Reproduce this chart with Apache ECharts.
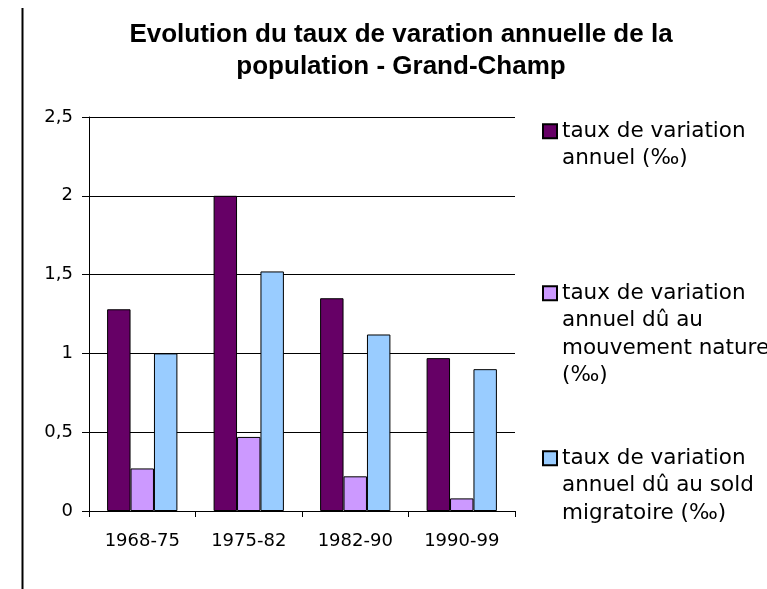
<!DOCTYPE html>
<html>
<head>
<meta charset="utf-8">
<script src="https://cdn.jsdelivr.net/npm/echarts@6/dist/echarts.min.js"></script>
<style>
  html, body { margin: 0; padding: 0; background: #fff; }
  #chart { width: 767px; height: 589px; }
</style>
</head>
<body>
<div id="chart"></div>
<script>
// donnees
const periods = ['1968-75', '1975-82', '1982-90', '1990-99'];
const tauxAnnuel = [1.28, 2.0, 1.35, 0.97];
const tauxNaturel = [0.27, 0.47, 0.22, 0.08];
const tauxMigratoire = [1.0, 1.52, 1.12, 0.9];
const yTicks = [0, 0.5, 1, 1.5, 2, 2.5];

const names = [
  'taux de variation\nannuel (‰)',
  'taux de variation\nannuel dû au\nmouvement nature\n(‰)',
  'taux de variation\nannuel dû au sold\nmigratoire (‰)'
];
const colors = ['#660066', '#cc99ff', '#99ccff'];
const values = [tauxAnnuel, tauxNaturel, tauxMigratoire];

const font = 'DejaVu Sans, sans-serif';
const titleFont = 'Liberation Sans, Arial, sans-serif';
const lh = 27.5;
const sq = 14;
// centre de la premiere ligne de chaque bloc de legende
const legendCenters = [131, 293, 458];

const chart = echarts.init(document.getElementById('chart'));

chart.setOption({
  animation: false,
  backgroundColor: '#fff',
  title: {
    text: 'Evolution du taux de varation annuelle de la\npopulation - Grand-Champ',
    left: 396,
    top: 14,
    textAlign: 'center',
    textStyle: {
      fontFamily: titleFont,
      fontSize: 26,
      fontWeight: 'bold',
      color: '#000',
      lineHeight: 32,
      align: 'center'
    }
  },
  // une legende par serie ; le carre est place en haut du bloc de texte
  legend: names.map((n, i) => {
    const lines = n.split('\n').length;
    const h = lines * lh - sq;
    return {
      data: [n],
      orient: 'vertical',
      left: 542,
      top: legendCenters[i] - lh / 2,
      padding: 0,
      itemWidth: sq,
      itemHeight: h,
      icon: 'path://M0,0L' + sq + ',0L' + sq + ',' + sq + 'L0,' + sq + 'Z M0,' + h,
      selectedMode: false,
      textStyle: {
        fontFamily: font,
        fontSize: 21.5,
        lineHeight: lh,
        color: '#000'
      }
    };
  }),
  grid: {
    left: 89,
    right: 252,
    top: 117,
    bottom: 78
  },
  xAxis: {
    type: 'category',
    data: periods,
    axisLine: { lineStyle: { color: '#000', width: 1 } },
    axisTick: { show: true, length: 6, lineStyle: { color: '#000' } },
    axisLabel: {
      color: '#000',
      fontFamily: font,
      fontSize: 18,
      margin: 21
    }
  },
  yAxis: {
    type: 'value',
    min: 0,
    max: 2.5,
    interval: 0.5,
    axisLine: { show: true, lineStyle: { color: '#000', width: 1 } },
    axisTick: { show: true, length: 7, lineStyle: { color: '#000' } },
    splitLine: { show: true, lineStyle: { color: '#000', width: 1 } },
    axisLabel: {
      color: '#000',
      fontFamily: font,
      fontSize: 18,
      margin: 16,
      formatter: v => yTicks.includes(v) ? String(v).replace('.', ',') : ''
    }
  },
  series: names.map((n, i) => ({
    name: n,
    type: 'bar',
    data: values[i],
    barGap: '0%',
    barCategoryGap: '34%',
    itemStyle: {
      color: colors[i],
      borderColor: '#000',
      borderWidth: 1
    }
  })),
  graphic: [
    {
      type: 'line',
      shape: { x1: 22.5, y1: 8, x2: 22.5, y2: 589 },
      style: { stroke: '#000', lineWidth: 2 }
    }
  ]
});
</script>
</body>
</html>
